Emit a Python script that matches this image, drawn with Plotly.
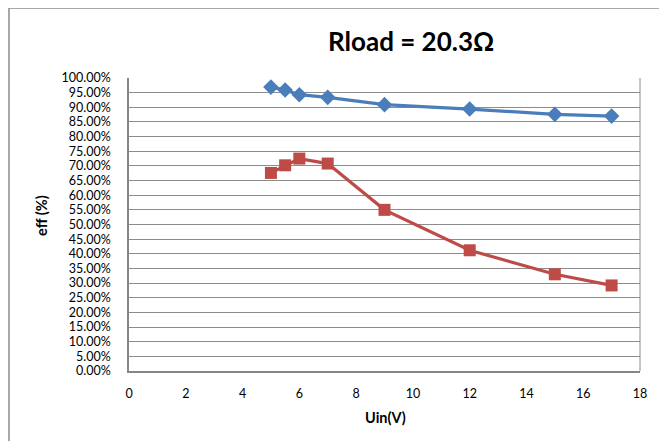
import plotly.graph_objects as go

uin = [5, 5.5, 6, 7, 9, 12, 15, 17]
eff_blue = [0.969, 0.959, 0.943, 0.934, 0.909, 0.894, 0.876, 0.870]
eff_red = [0.676, 0.702, 0.725, 0.708, 0.550, 0.412, 0.330, 0.292]

y_ticks = [i * 0.05 for i in range(21)]
x_ticks = list(range(0, 19, 2))

# page has an 8px body margin; work in page pixel coords and offset
OFF = 8
W, H = 667 - OFF, 441 - OFF
L, R, T, B = 129 - OFF, 27, 78 - OFF, 70
pw, ph = W - L - R, H - T - B

def px(x):
    return (x - OFF - L) / pw

def py(y):
    return (H - B - (y - OFF)) / ph

font = "Lato"

fig = go.Figure()
fig.add_trace(go.Scatter(x=uin, y=eff_blue, mode="lines+markers",
                         line=dict(color="#4A7EBB", width=3.2),
                         marker=dict(symbol="diamond", size=12, color="#4A7EBB"),
                         showlegend=False))
fig.add_trace(go.Scatter(x=uin, y=eff_red, mode="lines+markers",
                         line=dict(color="#BE4B48", width=3.2),
                         marker=dict(symbol="square", size=12, color="#BE4B48"),
                         showlegend=False))

fig.update_layout(
    width=W, height=H,
    margin=dict(l=L, r=R, t=T, b=B),
    paper_bgcolor="white", plot_bgcolor="white",
    font=dict(family=font, size=12, color="black"),
    xaxis=dict(range=[0, 18], tickvals=x_ticks, showgrid=False, zeroline=False,
               showline=True, linecolor="#868686", linewidth=1.5, ticks="",
               ticklabelstandoff=10, tickfont=dict(size=12.5)),
    yaxis=dict(range=[0, 1], tickvals=y_ticks, tickformat=".2%", showgrid=True,
               gridcolor="#8C8C8C", gridwidth=1, zeroline=False,
               showline=True, linecolor="#868686", linewidth=1.5, ticks="",
               ticklabelstandoff=14, tickfont=dict(size=12.5)),
    annotations=[
        dict(text="<b>Rload = 20.3Ω</b>", x=px(411), y=py(41), xref="paper", yref="paper",
             showarrow=False, font=dict(size=26), xanchor="center", yanchor="middle"),
        dict(text="<b>Uin(V)</b>", x=px(385), y=py(417), xref="paper", yref="paper",
             showarrow=False, font=dict(size=14.5), xanchor="center", yanchor="middle"),
        dict(text="<b>eff (%)</b>", x=px(41), y=py(216), xref="paper", yref="paper",
             showarrow=False, font=dict(size=14.5), textangle=-90,
             xanchor="center", yanchor="middle"),
    ],
    shapes=[
        dict(type="rect", xref="paper", yref="paper",
             x0=px(9), y0=py(470), x1=px(700), y1=py(8),
             line=dict(color="#8C8C8C", width=1.5), layer="below"),
        dict(type="line", xref="paper", yref="paper",
             x0=1, x1=1, y0=0, y1=1, line=dict(color="#8C8C8C", width=1)),
    ],
)

fig.write_html("out.html")
